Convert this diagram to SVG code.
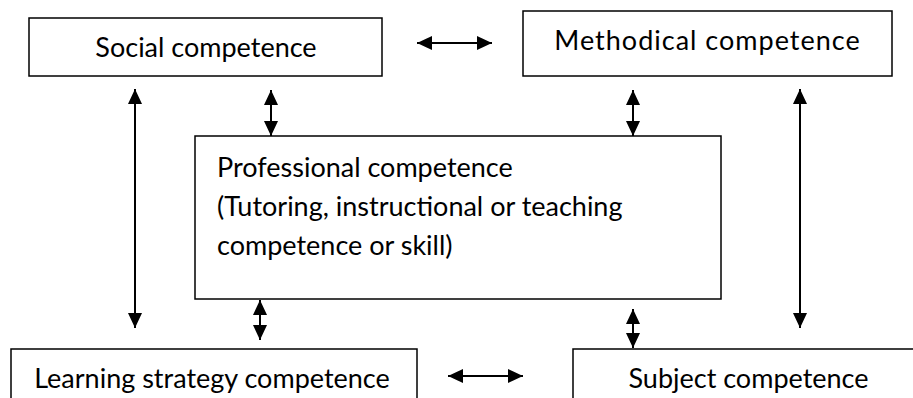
<svg xmlns="http://www.w3.org/2000/svg" width="913" height="398" viewBox="0 0 913 398">
<style>
.box{fill:#fff;stroke:#000;stroke-width:1.5}
.t{font-family:Lato,"Open Sans",sans-serif;font-size:27px;fill:#000}
.c{text-anchor:middle}
.ln{stroke:#000;stroke-width:2;fill:none;marker-start:url(#ah);marker-end:url(#ah)}
</style>
<defs>
<marker id="ah" markerUnits="userSpaceOnUse" markerWidth="16" markerHeight="14" refX="15" refY="7" orient="auto-start-reverse" viewBox="0 0 16 14">
<path d="M0,0 L15,7 L0,14 Z" fill="#000"/>
</marker>
</defs>
<g id="social"><rect class="box" x="29" y="18" width="353" height="58"/><text class="t c" x="206" y="57">Social competence</text></g>
<g id="methodical"><rect class="box" x="523" y="11" width="369" height="65"/><text class="t c" x="707.5" y="50" letter-spacing="1">Methodical competence</text></g>
<g id="professional"><rect class="box" x="195" y="136" width="526" height="163"/><text class="t" x="217" y="177">Professional competence</text><text class="t" x="217" y="216">(Tutoring, instructional or teaching</text><text class="t" x="217" y="255">competence or skill)</text></g>
<g id="learning"><rect class="box" x="11" y="349" width="406" height="60"/><text class="t c" x="212" y="388">Learning strategy competence</text></g>
<g id="subject"><rect class="box" x="573" y="349" width="360" height="60"/><text class="t c" x="748.5" y="388">Subject competence</text></g>
<g id="connectors">
<line class="ln" x1="417" y1="43" x2="492" y2="43"/>
<line class="ln" x1="448" y1="376" x2="523" y2="376"/>
<line class="ln" x1="135" y1="89" x2="135" y2="328"/>
<line class="ln" x1="800" y1="89" x2="800" y2="328"/>
<line class="ln" x1="271" y1="90" x2="271" y2="136"/>
<line class="ln" x1="633" y1="90" x2="633" y2="136"/>
<line class="ln" x1="260" y1="300" x2="260" y2="340"/>
<line class="ln" x1="633" y1="309" x2="633" y2="348"/>
</g>
</svg>
